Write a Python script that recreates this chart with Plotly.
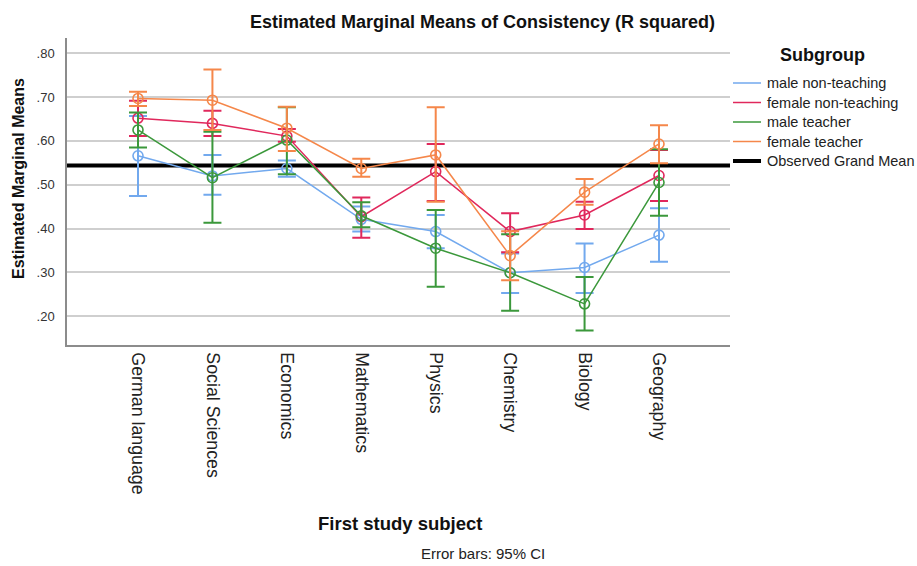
import plotly.graph_objects as go

# ---- data -------------------------------------------------------------
subjects = ["German language", "Social Sciences", "Economics", "Mathematics",
            "Physics", "Chemistry", "Biology", "Geography"]

male_nonteach_mean = [0.566, 0.520, 0.537, 0.421, 0.393, 0.299, 0.311, 0.385]
male_nonteach_lo = [0.474, 0.477, 0.518, 0.393, 0.355, 0.253, 0.253, 0.324]
male_nonteach_hi = [0.657, 0.568, 0.555, 0.450, 0.431, 0.343, 0.366, 0.446]

female_nonteach_mean = [0.652, 0.640, 0.611, 0.427, 0.530, 0.393, 0.431, 0.521]
female_nonteach_lo = [0.611, 0.611, 0.598, 0.379, 0.463, 0.346, 0.399, 0.463]
female_nonteach_hi = [0.692, 0.669, 0.627, 0.471, 0.593, 0.435, 0.461, 0.579]

male_teacher_mean = [0.625, 0.516, 0.602, 0.429, 0.355, 0.299, 0.228, 0.505]
male_teacher_lo = [0.585, 0.413, 0.524, 0.403, 0.267, 0.212, 0.167, 0.429]
male_teacher_hi = [0.665, 0.621, 0.677, 0.460, 0.442, 0.387, 0.289, 0.581]

female_teacher_mean = [0.697, 0.693, 0.629, 0.537, 0.568, 0.338, 0.483, 0.593]
female_teacher_lo = [0.680, 0.625, 0.577, 0.518, 0.461, 0.282, 0.454, 0.549]
female_teacher_hi = [0.712, 0.763, 0.678, 0.559, 0.677, 0.394, 0.513, 0.636]

grand_mean = 0.544

y_tickvals = [0.20, 0.30, 0.40, 0.50, 0.60, 0.70, 0.80]
y_ticktext = [".20", ".30", ".40", ".50", ".60", ".70", ".80"]

series = [
    ("male non-teaching", male_nonteach_mean, male_nonteach_lo, male_nonteach_hi, "#72a9ee"),
    ("female non-teaching", female_nonteach_mean, female_nonteach_lo, female_nonteach_hi, "#e0285c"),
    ("male teacher", male_teacher_mean, male_teacher_lo, male_teacher_hi, "#3b983b"),
    ("female teacher", female_teacher_mean, female_teacher_lo, female_teacher_hi, "#f5874a"),
]

# ---- layout geometry ----------------------------------------------------
W, H = 917, 566
ML, MR, MT, MB = 67, 187, 38, 221
PW, PH = W - ML - MR, H - MT - MB
FONT = "Arial, Liberation Sans, sans-serif"


def px(x):
    return (x - ML) / PW


def py(y):
    return (H - MB - y) / PH


fig = go.Figure()

for name, mean, lo, hi, color in series:
    fig.add_trace(go.Scatter(
        x=subjects, y=mean, mode="lines+markers", name=name, showlegend=False,
        line=dict(color=color, width=1.5),
        marker=dict(symbol="circle-open", size=10, color=color,
                    line=dict(width=1.6, color=color)),
        error_y=dict(type="data", symmetric=False,
                     array=[h - m for h, m in zip(hi, mean)],
                     arrayminus=[m - l for m, l in zip(mean, lo)],
                     color=color, thickness=2, width=9),
        hoverinfo="skip",
    ))

# observed grand mean reference line
fig.add_shape(type="line", xref="paper", x0=0, x1=1, yref="y",
              y0=grand_mean, y1=grand_mean, layer="between",
              line=dict(color="black", width=4))

annotations = [
    dict(text="<b>Estimated Marginal Means of Consistency (R squared)</b>",
         x=px(482), y=py(22), font=dict(size=18, color="#111")),
    dict(text="<b>Estimated Marginal Means</b>", x=px(18), y=py(179),
         textangle=-90, font=dict(size=16, color="#111")),
    dict(text="<b>First study subject</b>", x=px(400), y=py(523),
         font=dict(size=18.5, color="#111")),
    dict(text="Error bars: 95% CI", x=px(483), y=py(553),
         font=dict(size=15, color="#222")),
    dict(text="<b>Subgroup</b>", x=px(822), y=py(55),
         font=dict(size=18, color="#111")),
]
for a in annotations:
    a.update(xref="paper", yref="paper", xanchor="center", yanchor="middle",
             showarrow=False, font=dict(family=FONT, **a["font"]))

# legend: sample line + label per subgroup, then the grand mean entry
legend_rows = [(name, color, 1.5) for name, _, _, _, color in series]
legend_rows.append(("Observed Grand Mean", "black", 4))
row_y = [83, 102.5, 122, 141.5, 161]
for (name, color, lw), ry in zip(legend_rows, row_y):
    fig.add_shape(type="line", xref="paper", yref="paper",
                  x0=px(733), x1=px(761), y0=py(ry), y1=py(ry),
                  line=dict(color=color, width=lw))
    annotations.append(dict(text=name, xref="paper", yref="paper",
                            x=px(765), y=py(ry), xanchor="left", yanchor="middle",
                            showarrow=False,
                            font=dict(family=FONT, size=14.5, color="#222")))

fig.update_layout(
    width=W, height=H,
    margin=dict(l=ML, r=MR, t=MT, b=MB, pad=0, autoexpand=False),
    paper_bgcolor="white", plot_bgcolor="white",
    font=dict(family=FONT, color="#222"),
    annotations=annotations,
    showlegend=False,
    xaxis=dict(
        type="category", range=[-0.954, 7.954],
        showgrid=False, zeroline=False,
        showline=True, linecolor="#8c8c8c", linewidth=1.5,
        ticks="", tickangle=90, ticklabelstandoff=2,
        tickfont=dict(size=17.8, color="#222", family=FONT),
    ),
    yaxis=dict(
        range=[0.134, 0.835],
        tickvals=y_tickvals, ticktext=y_ticktext,
        showgrid=True, gridcolor="#cfcfcf", gridwidth=1.5,
        zeroline=False,
        showline=True, linecolor="#8c8c8c", linewidth=1.5,
        ticks="", ticklabelstandoff=8,
        tickfont=dict(size=13, color="#333", family=FONT),
    ),
)

fig.write_html("out.html")
